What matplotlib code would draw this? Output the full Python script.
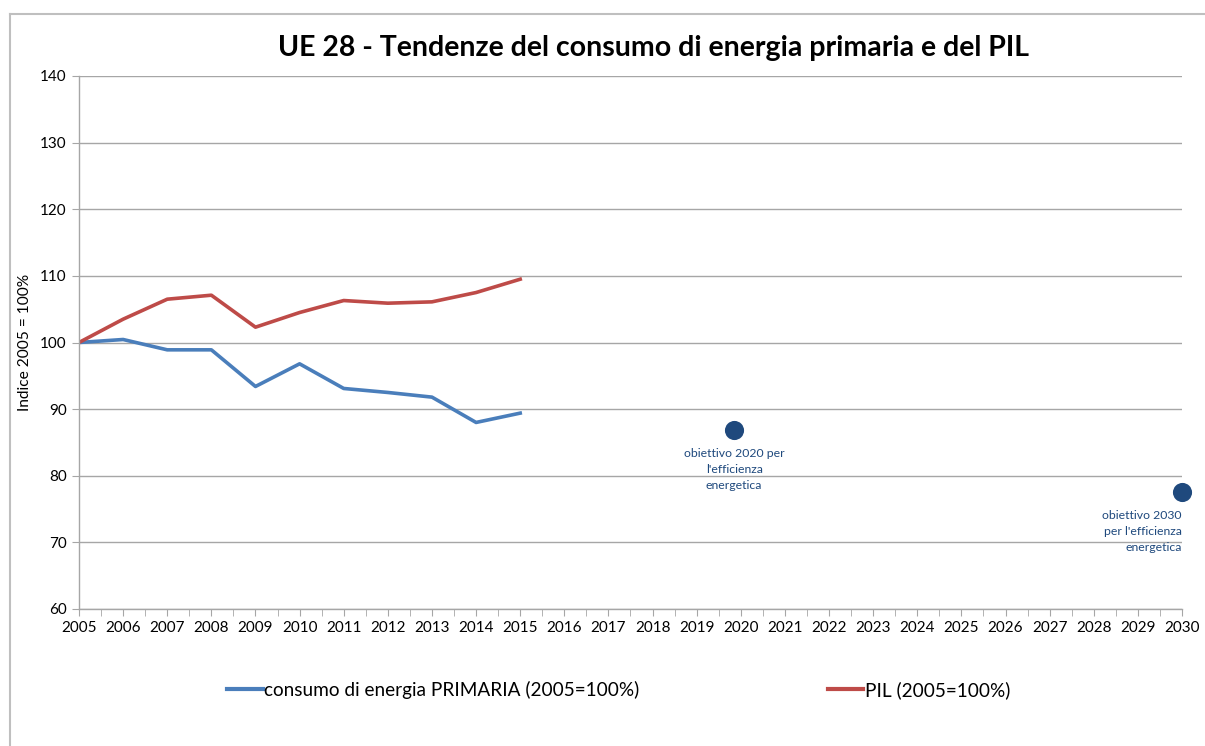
import matplotlib.pyplot as plt
from matplotlib.lines import Line2D
from matplotlib.ticker import MultipleLocator

plt.rcParams['font.family'] = ['Lato', 'DejaVu Sans']

# data
years = list(range(2005, 2016))
consumo = [100, 100.45, 98.9, 98.9, 93.4, 96.8, 93.1, 92.5, 91.8, 88.0, 89.4]
pil = [100, 103.5, 106.5, 107.1, 102.3, 104.5, 106.3, 105.9, 106.1, 107.5, 109.5]
target_x = [2019.85, 2030]
target_y = [86.8, 77.5]
target_labels = ["obiettivo 2020 per\nl'efficienza\nenergetica",
                 "obiettivo 2030\nper l'efficienza\nenergetica"]

blue = '#4A7EBB'
red = '#BE4B48'
navy = '#1F497D'
grid_c = '#A6A6A6'

W, H = 1205, 746
fig = plt.figure(figsize=(W / 100, H / 100), dpi=100)
ax = fig.add_axes([79 / W, (H - 609) / H, 1103 / W, 533 / H])

ax.plot(years, consumo, color=blue, lw=2.6, solid_joinstyle='round',
        label='consumo di energia PRIMARIA (2005=100%)')
ax.plot(years, pil, color=red, lw=2.6, solid_joinstyle='round',
        label='PIL (2005=100%)')
ax.scatter(target_x, target_y, s=190, color=navy, zorder=4, linewidths=0,
           clip_on=False)

ax.text(target_x[0], target_y[0] - 2.6, target_labels[0], ha='center', va='top',
        fontsize=8.8, color=navy, linespacing=1.55)
ax.text(target_x[1], target_y[1] - 2.6, target_labels[1], ha='right', va='top',
        fontsize=8.8, color=navy, linespacing=1.55, multialignment='right')

ax.set_xlim(2005, 2030)
ax.set_ylim(60, 140)
ax.set_xticks(range(2005, 2031))
ax.xaxis.set_minor_locator(MultipleLocator(0.5))
ax.set_yticks(range(60, 141, 10))
ax.yaxis.grid(True, color=grid_c, lw=1)
ax.set_axisbelow(True)

for s in ['top', 'right']:
    ax.spines[s].set_visible(False)
for s in ['left', 'bottom']:
    ax.spines[s].set_color(grid_c)
    ax.spines[s].set_linewidth(1)
ax.tick_params(axis='both', which='both', color=grid_c, labelsize=11, direction='out')
ax.tick_params(axis='x', which='major', length=5, pad=4)
ax.tick_params(axis='x', which='minor', length=5)
ax.tick_params(axis='y', length=5, pad=4)
ax.set_ylabel('Indice 2005 = 100%', fontsize=11.2, labelpad=6)

fig.text(654 / W, 1 - 48 / H, 'UE 28 - Tendenze del consumo di energia primaria e del PIL',
         ha='center', va='center', fontsize=20.5, fontweight='bold')

handles = [Line2D([], [], color=blue, lw=3), Line2D([], [], color=red, lw=3)]
fig.legend(handles, ['consumo di energia PRIMARIA (2005=100%)', 'PIL (2005=100%)'],
           loc='center', bbox_to_anchor=(619 / W, 1 - 690 / H), ncol=2,
           frameon=False, fontsize=13.7, handlelength=1.85, handletextpad=0.1,
           columnspacing=9.9)

# outer chart frame (only left and top edges visible)
fig.add_artist(Line2D([9.5 / W, 9.5 / W], [0, 1 - 13.5 / H], color='#BFBFBF', lw=1.5,
                      transform=fig.transFigure))
fig.add_artist(Line2D([9.5 / W, 1], [1 - 13.5 / H, 1 - 13.5 / H], color='#BFBFBF', lw=1.5,
                      transform=fig.transFigure))

fig.savefig('out.png', dpi=100)
